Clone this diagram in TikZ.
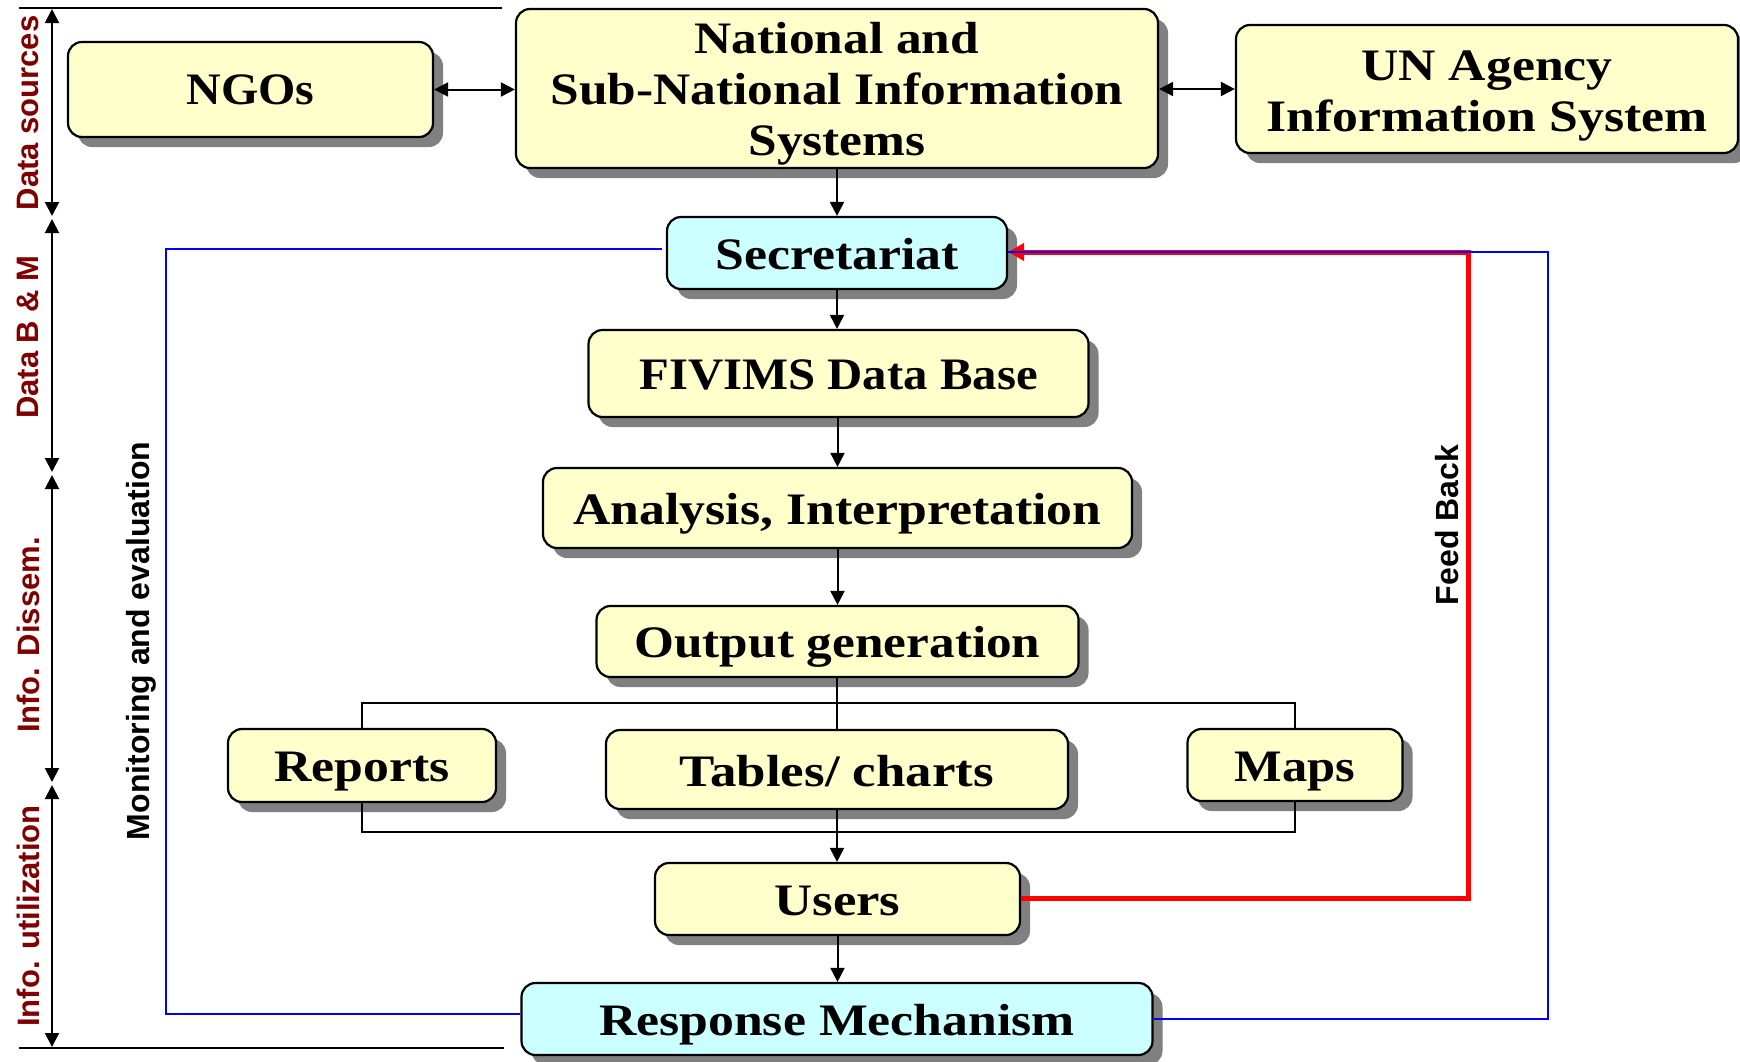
\documentclass[tikz,border=0pt]{standalone}
\usepackage{graphicx}
\usepackage{fontspec}
\setmainfont{Liberation Serif}[FakeStretch=1.15]
\newfontfamily\labfont{Liberation Sans}
\usetikzlibrary{arrows.meta,shadows}
\definecolor{boxyellow}{HTML}{FFFFCC}
\definecolor{boxcyan}{HTML}{CCFFFF}
\definecolor{darkred}{HTML}{800000}
% lower text by #1 without changing its box, and stretch it by #2
\newcommand{\tx}[3]{\raisebox{-#1}[\height][\depth]{\scalebox{#2}[1]{#3}}}
\begin{document}
\begin{tikzpicture}[x=0.5pt,y=-0.5pt,
 box/.style={rectangle, rounded corners=7pt, draw=black, line width=1.1pt, fill=boxyellow,
   general shadow={fill=black!50, shadow xshift=5pt, shadow yshift=-5pt},
   inner sep=0pt, font=\bfseries\fontsize{22.5}{25.5}\selectfont},
 cbox/.style={box, fill=boxcyan},
 conn/.style={draw=black, line width=1pt},
 arr/.style={conn, -{Triangle[length=7pt,width=7pt]}},
 darr/.style={conn, {Triangle[length=7pt,width=7pt]}-{Triangle[length=7pt,width=7pt]}},
 sidelab/.style={rotate=90, text=darkred, inner sep=0pt, font=\labfont\bfseries\fontsize{15.5}{16}\selectfont},
 looplab/.style={rotate=90, text=black, inner sep=0pt, font=\labfont\bfseries\fontsize{16}{16}\selectfont},
 blueline/.style={draw=blue, line width=1pt},
 redline/.style={draw=red, line width=2.5pt},
]
\useasboundingbox (0,0) rectangle (1740,1061);

% frame lines and stage arrows
\coordinate (tl) at (19,8);   \coordinate (tr) at (502,8);
\coordinate (bl) at (19,1048); \coordinate (br) at (504,1048);
\draw[conn] (tl) -- (tr);
\draw[conn] (bl) -- (br);
\coordinate (s0) at (52,9);
\coordinate (s1a) at (52,216); \coordinate (s1b) at (52,219);
\coordinate (s2a) at (52,472); \coordinate (s2b) at (52,475);
\coordinate (s3a) at (52,782); \coordinate (s3b) at (52,785);
\coordinate (s4) at (52,1047);
\draw[darr] (s0) -- (s1a);
\draw[darr] (s1b) -- (s2a);
\draw[darr] (s2b) -- (s3a);
\draw[darr] (s3b) -- (s4);
\node[sidelab] (l1) at (28,113) {Data sources};
\node[sidelab] (l2) at (28,337) {Data B \& M};
\node[sidelab] (l3) at (28,635) {Info. Dissem.};
\node[sidelab] (l4) at (28,916) {Info. utilization};

\coordinate (fbTop) at (1468,252);
\coordinate (meL) at (166,1014);
\coordinate (meR) at (1548,1019);

% boxes
\node[box, minimum width=182.5pt, minimum height=47.5pt] (ngo) at (250.5,89.5) {\tx{0pt}{0.926}{NGOs}};
\node[box, minimum width=321pt, minimum height=79.5pt] (nat) at (837,88.5) {\tx{2.8pt}{0.994}{\begin{tabular}{@{}c@{}}National and\\Sub-National Information\\Systems\end{tabular}}};
\node[box, minimum width=251pt, minimum height=64pt] (un) at (1487,89) {\tx{3.2pt}{1}{\begin{tabular}{@{}c@{}}UN Agency\\Information System\end{tabular}}};
\node[cbox, minimum width=170pt, minimum height=36pt] (sec) at (837,253) {\tx{0.6pt}{1}{Secretariat}};
\node[box, minimum width=250pt, minimum height=43.5pt] (db) at (838.5,373.5) {\tx{0.6pt}{0.943}{FIVIMS Data Base}};
\node[box, minimum width=294.5pt, minimum height=40pt] (ana) at (837.5,508) {\tx{2.8pt}{1}{Analysis, Interpretation}};
\node[box, minimum width=241pt, minimum height=35.5pt] (out) at (837.5,641.5) {\tx{2.8pt}{0.991}{Output generation}};
\node[box, minimum width=134pt, minimum height=36.5pt] (rep) at (362,765.5) {\tx{2.8pt}{1}{Reports}};
\node[box, minimum width=231pt, minimum height=39.5pt] (tab) at (837,769.5) {\tx{0.6pt}{1.023}{Tables/ charts}};
\node[box, minimum width=107.5pt, minimum height=36pt] (maps) at (1295,765) {\tx{3.3pt}{0.975}{Maps}};
\node[box, minimum width=182.5pt, minimum height=36pt] (users) at (837.5,899) {\tx{1.1pt}{1.02}{Users}};
\node[cbox, minimum width=315.5pt, minimum height=36pt] (resp) at (837,1019) {\tx{2.8pt}{1}{Response Mechanism}};

% top arrows
\draw[darr] (ngo.east) -- (ngo.east -| nat.west);
\draw[darr] (nat.east |- un.west) -- (un.west);
\draw[arr] (nat.south) -- (sec.north);
\draw[arr] (sec.south) -- (sec.south |- db.north);
\draw[arr] (db.south -| ana.north) -- (ana.north);
\draw[arr] (ana.south) -- (out.north);

% output bracket
\coordinate (brtop) at (837,703);
\coordinate (brbot) at (837,832);
\draw[conn] (out.south -| brtop) -- (brtop) -- (tab.north);
\draw[conn] (rep.north) -- (rep.north |- brtop) -- (maps.north |- brtop) -- (maps.north);
\draw[conn] (rep.south) -- (rep.south |- brbot) -- (maps.south |- brbot) -- (maps.south);
\draw[arr] (tab.south) -- (tab.south |- users.north);
\draw[arr] (users.south) -- (users.south |- resp.north);

% feed back (red) and monitoring (blue)
\draw[redline, -{Triangle[length=8pt,width=8.5pt]}] (users.east |- 0,898) -| (fbTop) -- (sec.east |- fbTop);
\draw[blueline] (resp.east |- meR) -- (meR) -- (meR |- fbTop) -- (sec.east |- fbTop);
\draw[blueline] (resp.west |- meL) -- (meL) -- (meL |- 0,249) -- ([xshift=-2pt]sec.west |- 0,249);
\node[looplab] (fb) at (1447,525) {Feed Back};
\node[looplab] (me) at (141,641) {Monitoring and evaluation};
\end{tikzpicture}
\end{document}
